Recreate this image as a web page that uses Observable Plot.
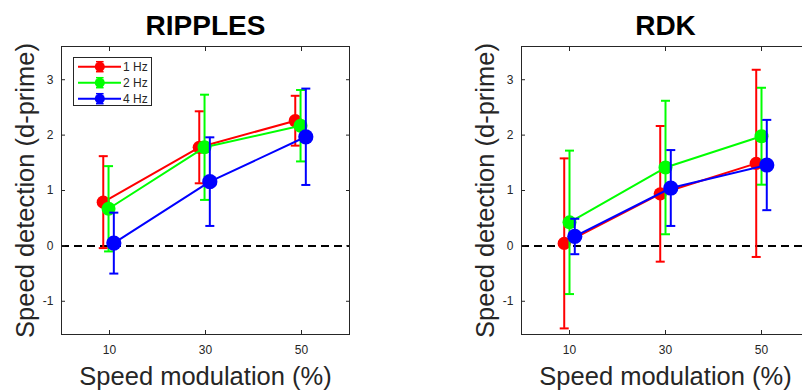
<!DOCTYPE html>
<html><head><meta charset="utf-8">
<script src="https://cdn.jsdelivr.net/npm/d3@7"></script>
<script src="https://cdn.jsdelivr.net/npm/@observablehq/plot@0.6"></script>
<style>
html,body{margin:0;padding:0;background:#fff;overflow:hidden;width:802px;height:392px;}
#wrap{position:relative;width:802px;height:392px;overflow:hidden;font-family:"Liberation Sans",Arial,sans-serif;}
.panel{position:absolute;top:0;width:400px;height:392px;}
.panel svg{overflow:visible;max-width:none !important;width:400px;height:392px;display:block;}
#legend{position:absolute;left:72.5px;top:57px;width:79.5px;height:48.5px;border:1px solid #262626;background:#fff;box-sizing:border-box;}
#legend svg{position:absolute;left:0;top:0;}
</style></head><body><div id="wrap"></div>
<script>
// ---- data ----
const speeds = [10, 30, 50];
const seriesNames = ["1 Hz", "2 Hz", "4 Hz"];
const xTicks = [10, 30, 50];
const yTicks = [-1, 0, 1, 2, 3];

const ripples1Hz = [0.79, 1.78, 2.26];
const ripples1HzErr = [0.83, 0.65, 0.45];
const ripples2Hz = [0.67, 1.78, 2.17];
const ripples2HzErr = [0.77, 0.95, 0.645];
const ripples4Hz = [0.05, 1.16, 1.97];
const ripples4HzErr = [0.55, 0.80, 0.87];

const rdk1Hz = [0.045, 0.94, 1.49];
const rdk1HzErr = [1.535, 1.225, 1.69];
const rdk2Hz = [0.425, 1.415, 1.98];
const rdk2HzErr = [1.295, 1.205, 0.875];
const rdk4Hz = [0.17, 1.045, 1.46];
const rdk4HzErr = [0.32, 0.685, 0.815];

// x dodge of each series (data units)
const ripplesDodge = [-1.3, -0.2, 0.9];
const rdkDodge = [-1.1, 0, 1.1];

// ---- styles ----
const colors = ["#ff0000", "#00ff00", "#0000ff"];
const dotR = [6.6, 7, 7.6];
const ink = "#262626";
const font = "'Liberation Sans', Arial, sans-serif";

const capSymbol = {draw(ctx, size) { const w = Math.sqrt(size / Math.PI); ctx.moveTo(-w, 0); ctx.lineTo(w, 0); }};
const fmt = d => String(d);

function panel(title, means, errs, dodge) {
  const marks = [
    Plot.ruleY([0], {stroke: "#000", strokeWidth: 2, strokeDasharray: "8,5"})
  ];
  seriesNames.forEach((name, s) => {
    const rows = speeds.map((sp, i) => ({
      x: sp + dodge[s], y: means[s][i],
      lo: means[s][i] - errs[s][i], hi: means[s][i] + errs[s][i]
    }));
    marks.push(
      Plot.line(rows, {x: "x", y: "y", stroke: colors[s], strokeWidth: 2}),
      Plot.ruleX(rows, {x: "x", y1: "lo", y2: "hi", stroke: colors[s], strokeWidth: 2}),
      Plot.dot(rows, {x: "x", y: "lo", symbol: capSymbol, r: 4.5, stroke: colors[s], strokeWidth: 2, fill: "none"}),
      Plot.dot(rows, {x: "x", y: "hi", symbol: capSymbol, r: 4.5, stroke: colors[s], strokeWidth: 2, fill: "none"}),
      Plot.dot(rows, {x: "x", y: "y", r: dotR[s], fill: colors[s], stroke: "none"})
    );
  });
  marks.push(
    Plot.frame({stroke: ink, strokeWidth: 1}),
    Plot.axisY(yTicks, {anchor: "left", tickSize: -4, tickPadding: 12, fontSize: 12, color: ink, label: null, tickFormat: fmt}),
    Plot.axisY(yTicks, {anchor: "right", tickSize: -4, stroke: ink, fill: "none", label: null}),
    Plot.axisX(xTicks, {anchor: "bottom", tickSize: -4, tickPadding: 15, fontSize: 12, color: ink, label: null, tickFormat: fmt}),
    Plot.axisX(xTicks, {anchor: "top", tickSize: -4, stroke: ink, fill: "none", label: null}),
    Plot.text([title], {frameAnchor: "top", textAnchor: "middle", lineAnchor: "middle", dy: -20, fontSize: 28, fontWeight: "bold", fill: "#000"}),
    Plot.text(["Speed detection (d-prime)"], {frameAnchor: "left", textAnchor: "middle", lineAnchor: "middle", rotate: -90, dx: -36, fontSize: 25.5, fill: ink}),
    Plot.text(["Speed modulation (%)"], {frameAnchor: "bottom", textAnchor: "middle", lineAnchor: "middle", dy: 42, fontSize: 25.5, fill: ink})
  );
  return Plot.plot({
    width: 400, height: 392,
    marginLeft: 61, marginRight: 51, marginTop: 46, marginBottom: 58,
    style: {fontFamily: font, background: "transparent", overflow: "visible", maxWidth: "none"},
    x: {domain: [0, 60], label: null},
    y: {domain: [-1.6, 3.6], label: null},
    marks
  });
}

const wrap = document.getElementById("wrap");
const left = document.createElement("div");
left.className = "panel"; left.style.left = "0px";
left.appendChild(panel("RIPPLES", [ripples1Hz, ripples2Hz, ripples4Hz], [ripples1HzErr, ripples2HzErr, ripples4HzErr], ripplesDodge));
wrap.appendChild(left);

const right = document.createElement("div");
right.className = "panel"; right.style.left = "460px";
right.appendChild(panel("RDK", [rdk1Hz, rdk2Hz, rdk4Hz], [rdk1HzErr, rdk2HzErr, rdk4HzErr], rdkDodge));
wrap.appendChild(right);

// legend
const legend = document.createElement("div");
legend.id = "legend";
const svg = d3.select(legend).append("svg").attr("width", 79).attr("height", 48);
seriesNames.forEach((name, s) => {
  const cy = 8.7 + s * 16;
  const g = svg.append("g").attr("transform", `translate(0,${cy})`);
  g.append("line").attr("x1", 4).attr("x2", 47).attr("y1", 0).attr("y2", 0).attr("stroke", colors[s]).attr("stroke-width", 2);
  g.append("line").attr("x1", 25.8).attr("x2", 25.8).attr("y1", -5).attr("y2", 5).attr("stroke", colors[s]).attr("stroke-width", 2);
  g.append("line").attr("x1", 22).attr("x2", 29.6).attr("y1", -5).attr("y2", -5).attr("stroke", colors[s]).attr("stroke-width", 1.5);
  g.append("line").attr("x1", 22).attr("x2", 29.6).attr("y1", 5).attr("y2", 5).attr("stroke", colors[s]).attr("stroke-width", 1.5);
  g.append("circle").attr("cx", 25.8).attr("cy", 0).attr("r", 5).attr("fill", colors[s]);
  g.append("text").attr("x", 49).attr("y", 0).attr("dy", "0.35em").attr("font-size", 12).attr("font-family", font).attr("fill", ink).text(name);
});
wrap.appendChild(legend);
</script>
</body></html>
